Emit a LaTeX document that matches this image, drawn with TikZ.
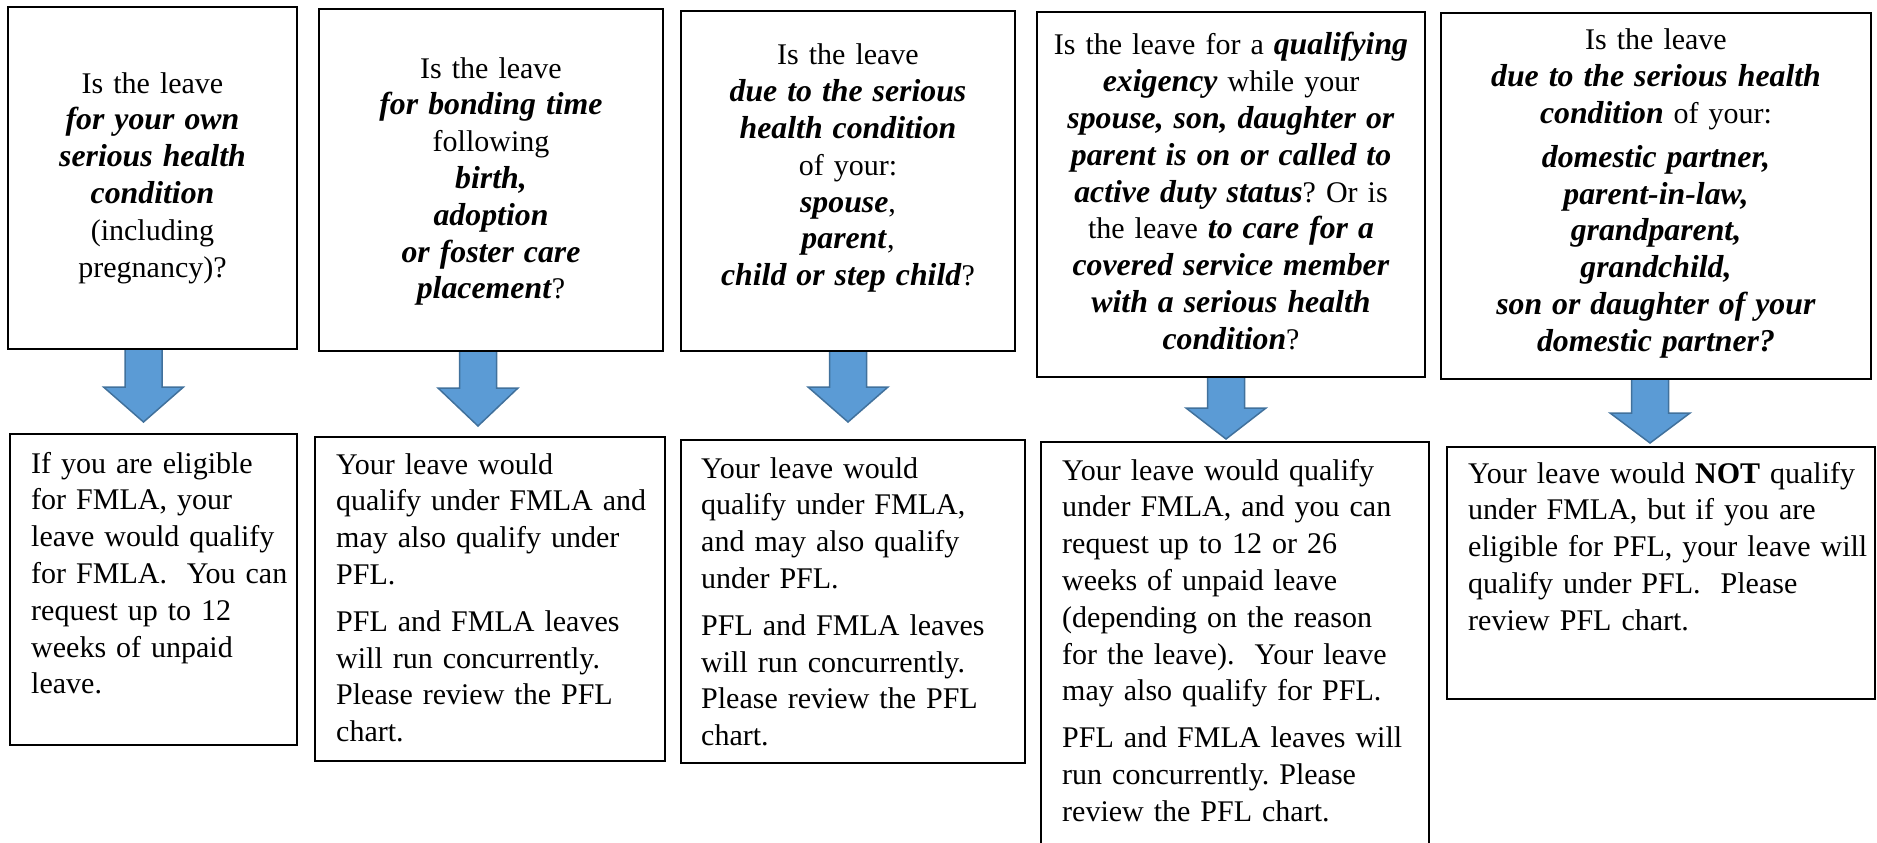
\documentclass[tikz,border=0pt]{standalone}
\usepackage{fontspec}
\setmainfont{Liberation Serif}[BoldItalicFeatures={Scale=1.06}]
\usetikzlibrary{fit}
\newcommand\bitx[1]{\textbf{\textit{#1}}}
\definecolor{arrowfill}{HTML}{5B9BD5}
\definecolor{arrowline}{HTML}{41719C}
\newcommand\blockarrow[4]{% x, ytop, ybase, ytip
  \draw[barrow] ({#1-18.5},#2) -- ({#1+18.5},#2) -- ({#1+18.5},#3) -- ({#1+40},#3)
    -- (#1,#4) -- ({#1-40},#3) -- ({#1-18.5},#3) -- cycle;}
\frenchspacing
\begin{document}
\begin{tikzpicture}[x=1pt,y=-1pt,
  box/.style={draw=black,line width=2pt,rectangle,inner sep=0pt},
  qtext/.style={anchor=base,inner sep=0pt,text width=#1,align=center,font=\fontsize{30}{36.8}\selectfont},
  atext/.style={anchor=base west,inner sep=0pt,text width=420pt,align=left,font=\fontsize{30}{36.8}\selectfont},
  barrow/.style={fill=arrowfill,draw=arrowline,line width=1.5pt,line join=miter}]
\useasboundingbox (0,0) rectangle (1877,843);

% arrows
\blockarrow{143.5}{349}{387}{422}
\blockarrow{478}{351}{388}{426}
\blockarrow{848}{351}{387}{422}
\blockarrow{1226}{377}{408}{439}
\blockarrow{1650}{379}{413}{443}

% question boxes
\node[box,fit={(8,7) (297,349)}] (q1) {};
\node[box,fit={(319,9) (663,351)}] (q2) {};
\node[box,fit={(681,11) (1015,351)}] (q3) {};
\node[box,fit={(1037,12) (1425,377)}] (q4) {};
\node[box,fit={(1441,13) (1871,379)}] (q5) {};

% answer boxes
\node[box,fit={(10,434) (297,745)}] (r1) {};
\node[box,fit={(315,437) (665,761)}] (r2) {};
\node[box,fit={(681,440) (1025,763)}] (r3) {};
\node[box,fit={(1041,442) (1429,860)}] (r4) {};
\node[box,fit={(1447,447) (1875,699)}] (r5) {};

% question texts
\node[qtext=280pt] (tq1) at (152.5,93) {Is the leave\\
\bitx{for your own}\\
\bitx{serious health}\\
\bitx{condition}\\
(including\\
pregnancy)?};

\node[qtext=330pt] (tq2) at (491,78) {Is the leave\\
\bitx{for bonding time}\\
following\\
\bitx{birth,}\\
\bitx{adoption}\\
\bitx{or foster care}\\
\bitx{placement}?};

\node[qtext=330pt] (tq3) at (848,65) {Is the leave\\
\bitx{due to the serious}\\
\bitx{health condition}\\
of your:\\
\bitx{spouse},\\
\bitx{parent},\\
\bitx{child or step child}?};

\node[qtext=380pt] (tq4) at (1231,55) {Is the leave for a \bitx{qualifying}\\
\bitx{exigency} while your\\
\bitx{spouse, son, daughter or}\\
\bitx{parent is on or called to}\\
\bitx{active duty status}? Or is\\
the leave \bitx{to care for a}\\
\bitx{covered service member}\\
\bitx{with a serious health}\\
\bitx{condition}?};

\node[qtext=420pt] (tq5) at (1656,50) {Is the leave\\
\bitx{due to the serious health}\\
\bitx{condition} of your:\\[7pt]
\bitx{domestic partner,}\\
\bitx{parent-in-law,}\\
\bitx{grandparent,}\\
\bitx{grandchild,}\\
\bitx{son or daughter of your}\\
\bitx{domestic partner?}};

% answer texts
\node[atext] (ta1) at (31,473) {If you are eligible\\
for FMLA, your\\
leave would qualify\\
for FMLA.\ \ You can\\
request up to 12\\
weeks of unpaid\\
leave.};

\node[atext] (ta2) at (336,474) {Your leave would\\
qualify under FMLA and\\
may also qualify under\\
PFL.\\[10pt]
PFL and FMLA leaves\\
will run concurrently.\\
Please review the PFL\\
chart.};

\node[atext] (ta3) at (701,478) {Your leave would\\
qualify under FMLA,\\
and may also qualify\\
under PFL.\\[10pt]
PFL and FMLA leaves\\
will run concurrently.\\
Please review the PFL\\
chart.};

\node[atext] (ta4) at (1062,480) {Your leave would qualify\\
under FMLA, and you can\\
request up to 12 or 26\\
weeks of unpaid leave\\
(depending on the reason\\
for the leave).\ \ Your leave\\
may also qualify for PFL.\\[10pt]
PFL and FMLA leaves will\\
run concurrently. Please\\
review the PFL chart.};

\node[atext] (ta5) at (1468,483) {Your leave would \textbf{NOT} qualify\\
under FMLA, but if you are\\
eligible for PFL, your leave will\\
qualify under PFL.\ \ Please\\
review PFL chart.};
\end{tikzpicture}
\end{document}
